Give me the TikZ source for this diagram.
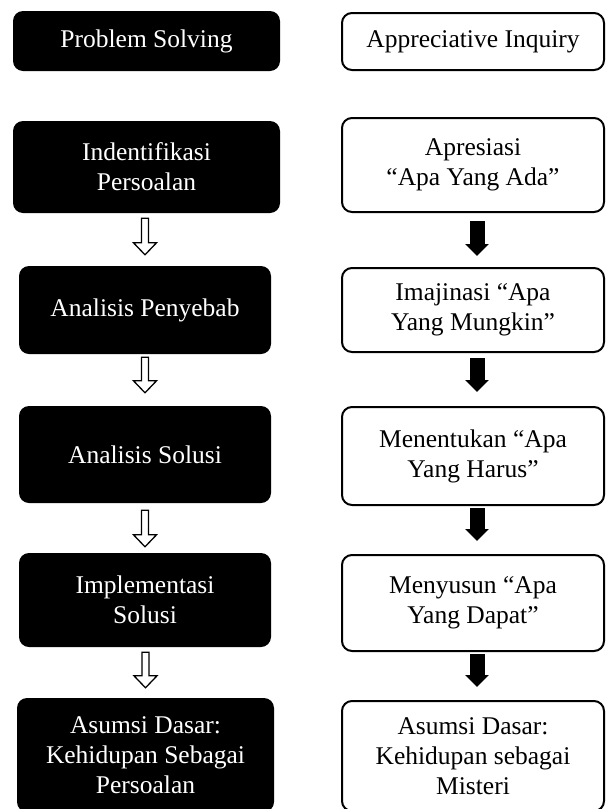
\documentclass[tikz,border=0pt]{standalone}
\usepackage{fontspec}
\setmainfont{Liberation Serif}
\usetikzlibrary{arrows.meta,calc}
\newcommand\hollowarrow[4]{%
  \draw[hollow] ($(#2.north |- #1.south)+(-3.5,#3)$)
    -- ($(#2.north)+(-3.5,-#4-12)$)
    -- ($(#2.north)+(-11.5,-#4-12)$)
    -- ($(#2.north)+(0,-#4)$)
    -- ($(#2.north)+(11.5,-#4-12)$)
    -- ($(#2.north)+(3.5,-#4-12)$)
    -- ($(#2.north |- #1.south)+(3.5,#3)$) -- cycle;}
\begin{document}
\begin{tikzpicture}[x=1pt,y=-1pt,
  txt/.style={align=center, inner sep=0pt, font=\fontsize{25.5}{30}\selectfont},
  lbox/.style={txt, fill=black, text=white, rounded corners=10pt},
  rbox/.style={txt, draw=black, line width=2pt, fill=white, text=black, rounded corners=10pt},
  solidarr/.style={line width=15pt, -{Triangle[width=23pt,length=12pt]}},
  hollow/.style={draw=black, line width=1.3pt, fill=white, line join=miter}]
\useasboundingbox (0,0) rectangle (606,809);
% left column
\node[lbox, minimum width=267pt, minimum height=60pt] (L1) at (146.5,41) {Problem Solving};
\node[lbox, minimum width=267pt, minimum height=92pt] (L2) at (146.5,167) {Indentifikasi\\Persoalan};
\node[lbox, minimum width=252pt, minimum height=88pt] (L3) at (145,310) {Analisis Penyebab};
\node[lbox, minimum width=252pt, minimum height=97pt] (L4) at (145,454.5) {Analisis Solusi};
\node[lbox, minimum width=252pt, minimum height=94pt] (L5) at (145,600) {Implementasi\\Solusi};
\node[lbox, minimum width=257pt, minimum height=114pt] (L6) at (145.5,755) {Asumsi Dasar:\\Kehidupan Sebagai\\Persoalan};
% right column
\node[rbox, minimum width=262pt, minimum height=57pt] (R1) at (473,41.5) {Appreciative Inquiry};
\node[rbox, minimum width=262pt, minimum height=94pt] (R2) at (473,165) {Apresiasi\\``Apa Yang Ada''};
\node[rbox, minimum width=262pt, minimum height=84pt] (R3) at (473,310) {Imajinasi ``Apa\\Yang Mungkin''};
\node[rbox, minimum width=262pt, minimum height=98pt] (R4) at (473,456) {Menentukan ``Apa\\Yang Harus''};
\node[rbox, minimum width=262pt, minimum height=96pt] (R5) at (473,603) {Menyusun ``Apa\\Yang Dapat''};
\node[rbox, minimum width=262pt, minimum height=110pt] (R6) at (473,756) {Asumsi Dasar:\\Kehidupan sebagai\\Misteri};
% left hollow arrows
\hollowarrow{L2}{L3}{5}{11}
\hollowarrow{L3}{L4}{3}{13}
\hollowarrow{L4}{L5}{7}{6}
\hollowarrow{L5}{L6}{5}{10}
% right solid arrows
\draw[solidarr, shorten <=8pt, shorten >=11pt] ([xshift=4pt]R2.south) -- ([xshift=4pt]R3.north);
\draw[solidarr, shorten <=5pt, shorten >=14pt] ([xshift=4pt]R3.south) -- ([xshift=4pt]R4.north);
\draw[solidarr, shorten <=2pt, shorten >=13pt] ([xshift=4pt]R4.south) -- ([xshift=4pt]R5.north);
\draw[solidarr, shorten <=2pt, shorten >=13pt] ([xshift=4pt]R5.south) -- ([xshift=4pt]R6.north);
\end{tikzpicture}
\end{document}
